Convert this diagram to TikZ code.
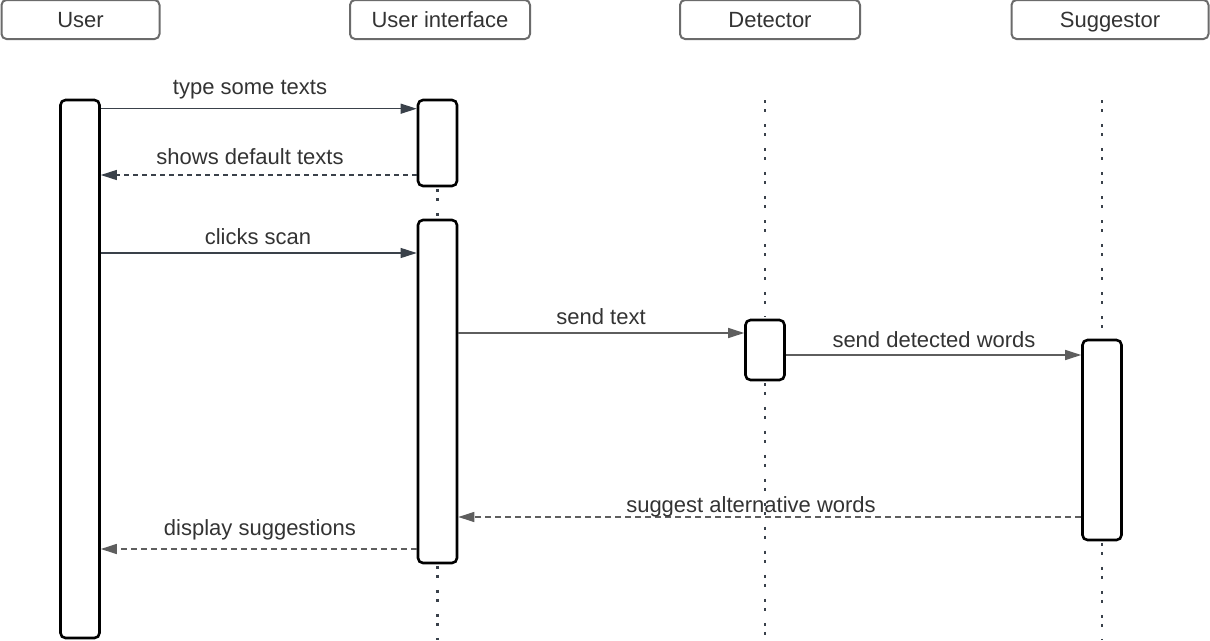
\documentclass[tikz,border=0pt]{standalone}
\usepackage{fontspec}
\setmainfont{Liberation Sans}
\usetikzlibrary{arrows.meta}
\definecolor{hdr}{HTML}{6B6B6B}
\definecolor{txt}{HTML}{333333}
\definecolor{dark}{HTML}{3A414A}
\definecolor{gry}{HTML}{5E5E5E}
\begin{document}
\begin{tikzpicture}[x=1pt,y=-1pt,
  every node/.style={font=\fontsize{22}{24}\selectfont, text=txt},
  header/.style={draw=hdr, line width=2pt, rounded corners=5pt, minimum height=39pt, inner sep=0pt, fill=white, text height=15.5pt, text depth=0pt},
  act/.style={draw=black, line width=2.6pt, rounded corners=5pt, fill=white, minimum width=39pt, inner sep=0pt},
  life/.style={draw=dark, line width=2.8pt, dash pattern=on 2.8pt off 6.2pt on 2.8pt off 12.2pt},
  msg/.style={draw=dark, line width=1.1pt, -{Triangle[length=16pt,width=10pt]}},
  msgg/.style={draw=gry, line width=1.3pt, -{Triangle[length=16pt,width=10pt]}},
  reply/.style={draw=gry, line width=1.3pt, dash pattern=on 6pt off 4pt, -{Triangle[length=16pt,width=10pt]}},
  lbl/.style={anchor=base, inner sep=0pt}
]
\useasboundingbox (0,0) rectangle (1210,640);
% headers
\node[header, minimum width=158pt] (hUser) at (80.5,19.5) {User};
\node[header, minimum width=180pt] (hUI) at (440,19.5) {User interface};
\node[header, minimum width=180pt] (hDet) at (770,19.5) {Detector};
\node[header, minimum width=197pt] (hSug) at (1110,19.5) {Suggestor};
% activations
\node[act, minimum height=538pt] (uAct) at (80,369) {};
\node[act, minimum height=86pt] (ui1) at (437.5,143) {};
\node[act, minimum height=343pt] (ui2) at (437.5,391.5) {};
\node[act, minimum height=60pt] (det) at (765,350) {};
\node[act, minimum height=200pt] (sug) at (1102,440) {};
% lifeline end coordinates
\coordinate (uiBot) at (437.5,640);
\coordinate (detTop) at (765,100);
\coordinate (detBot) at (765,640);
\coordinate (sugTop) at (1102,100);
\coordinate (sugBot) at (1102,640);
% lifelines
\draw[life] (detTop) -- ([yshift=1.5pt]det.north);
\draw[life] ([yshift=-1.5pt]det.south) -- (detBot);
\draw[life] (sugTop) -- ([yshift=1.5pt]sug.north);
\draw[life] ([yshift=-1.5pt]sug.south) -- (sugBot);
\draw[life] ([yshift=-1.5pt]ui1.south) -- ([yshift=1.5pt]ui2.north);
\draw[life] ([yshift=-1.5pt]ui2.south) -- (uiBot);
% messages
\draw[msg] ([yshift=-10pt]uAct.north east) -- ([yshift=-10pt]ui1.north west);
\node[lbl] (l1) at (250,94) {type some texts};
\draw[dark, line width=1.1pt, dash pattern=on 5pt off 4pt, -{Triangle[length=16pt,width=10pt]}] (ui1.west |- 0,175) -- (uAct.east |- 0,175);
\node[lbl] (l2) at (250,164) {shows default texts};
\draw[msg] (uAct.east |- 0,253) -- (ui2.west |- 0,253);
\node[lbl] (l3) at (258,244) {clicks scan};
\draw[msgg] (ui2.east |- 0,333) -- (det.west |- 0,333);
\node[lbl] (l4) at (601,324) {send text};
\draw[msgg] (det.east |- 0,355) -- (sug.west |- 0,355);
\node[lbl] (l5) at (934,347) {send detected words};
\draw[reply] (sug.west |- 0,517) -- (ui2.east |- 0,517);
\node[lbl] (l6) at (751,512) {suggest alternative words};
\draw[reply] (ui2.west |- 0,549) -- (uAct.east |- 0,549);
\node[lbl] (l7) at (260,535) {display suggestions};
\end{tikzpicture}
\end{document}
